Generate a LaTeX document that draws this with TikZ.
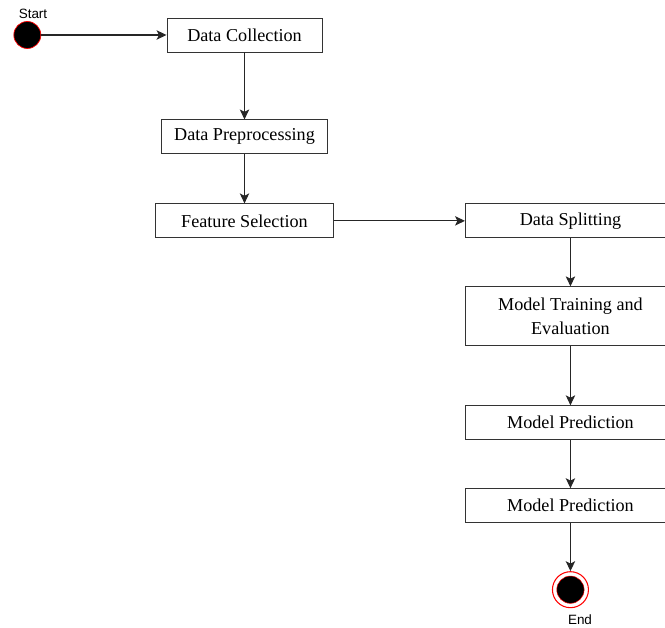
\documentclass[tikz,border=0pt]{standalone}
\usepackage{fontspec}
\setmainfont{Liberation Serif}
\newfontfamily\labelfont{Liberation Sans}
\usepackage{tikz}
\usetikzlibrary{shapes,arrows,arrows.meta,positioning,calc}
\usepackage{xcolor}

\begin{document}
\begin{tikzpicture}[x=0.03cm, y=0.03cm,
    stage/.style={rectangle, draw=black!80, line width=0.8pt, fill=white, minimum height=1.02cm, inner sep=2pt, font=\fontsize{15.5}{20}\selectfont, text centered},
    flow/.style={-{Stealth[length=8.5pt, width=8pt, inset=2pt]}, draw=black!85, line width=0.9pt},
    startnode/.style={circle, fill=black, draw=red, line width=0.6pt, minimum size=0.81cm, inner sep=0pt},
    endnode/.style={circle, fill=white, draw=red, line width=0.9pt, minimum size=1.08cm, inner sep=0pt,
        path picture={\filldraw[fill=black, draw=red, line width=0.4pt] (path picture bounding box.center) circle (0.41cm);}},
    tag/.style={font=\labelfont\fontsize{11.5}{13}\selectfont, inner sep=0pt}
]

\clip (0,0) rectangle (665,628);

% Left column
\node (collect) [stage, minimum width=4.65cm] at (244.5,593) {Data Collection};
\node (preproc) [stage, minimum width=4.98cm, below=2.01cm of collect] {Data Preprocessing};
\node (featsel) [stage, minimum width=5.34cm, below=1.47cm of preproc] {Feature Selection};

% Right column
\node (split) [stage, minimum width=6.3cm, right=3.93cm of featsel] {Data Splitting};
\node (train) [stage, minimum width=6.3cm, minimum height=1.77cm, align=center, below=1.44cm of split] {Model Training and\\Evaluation};
\node (pred1) [stage, minimum width=6.3cm, below=1.77cm of train] {Model Prediction};
\node (pred2) [stage, minimum width=6.3cm, below=1.44cm of pred1] {Model Prediction};

% Start and end
\node (start) [startnode, left=3.76cm of collect] {};
\node (stop) [endnode, below=1.44cm of pred2] {};
\node (startlbl) [tag] at (33,614) {Start};
\node (endlbl) [tag] at (580,8) {End};

% Connectors
\draw[flow] (start) -- (collect);
\draw[flow] (collect) -- (preproc);
\draw[flow] (preproc) -- (featsel);
\draw[flow] (featsel) -- (split);
\draw[flow] (split) -- (train);
\draw[flow] (train) -- (pred1);
\draw[flow] (pred1) -- (pred2);
\draw[flow] (pred2) -- (stop);

\end{tikzpicture}
\end{document}
